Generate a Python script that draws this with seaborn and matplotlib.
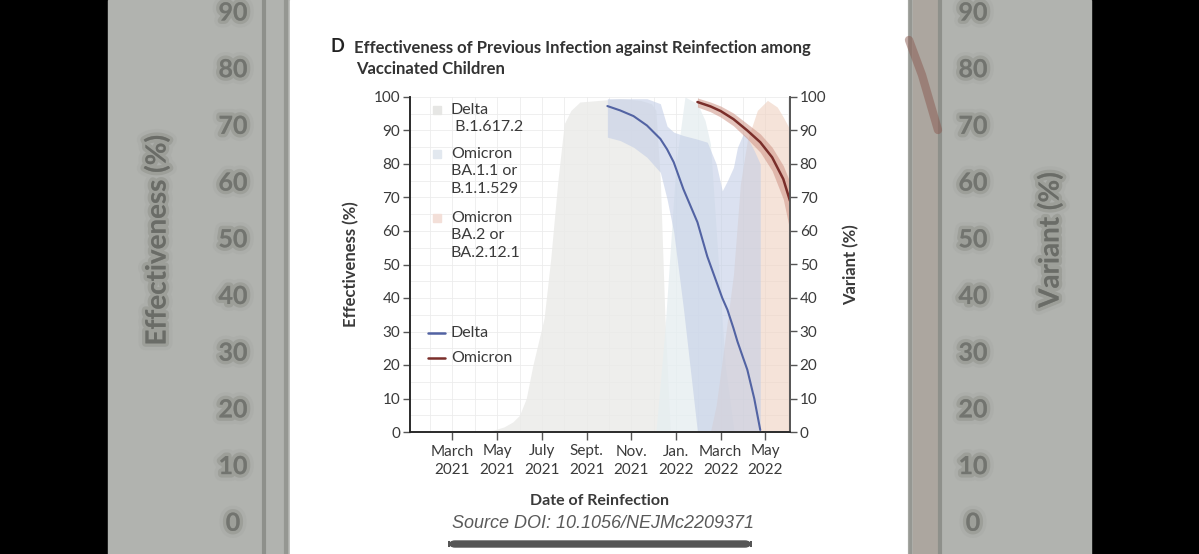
import numpy as np
import seaborn as sns
import matplotlib.pyplot as plt
import matplotlib.patheffects as pe
from matplotlib.patches import Rectangle, FancyBboxPatch
from matplotlib.lines import Line2D

# x values are months counted from 1 Jan 2021
tick_months = [2, 4, 6, 8, 10, 12, 14, 16]
tick_labels = ["March\n2021", "May\n2021", "July\n2021", "Sept.\n2021",
               "Nov.\n2021", "Jan.\n2022", "March\n2022", "May\n2022"]

# variant share (%)
delta_var_month = [0.1, 3.0, 3.8, 4.3, 4.7, 5.0, 5.3, 5.6, 6.1, 6.4, 6.7, 7.0,
                   7.3, 7.7, 8.6, 9.5, 10.4, 10.9, 11.1, 11.3, 11.5, 11.75]
delta_var_pct = [0, 0, 0.5, 1.5, 3, 5, 10, 20, 34, 52, 74, 92,
                 96, 98.5, 99, 99.5, 99, 98, 96, 75, 35, 0]

ba1_var_month = [11.1, 11.5, 12.0, 12.4, 12.96, 13.3, 13.54, 13.8, 14.2, 14.6]
ba1_var_pct = [0, 30, 80, 100, 98, 93, 86, 60, 20, 0]

ba2_var_month = [13.54, 13.8, 14.12, 14.57, 14.88, 15.19, 15.64, 16.09, 16.53, 16.8, 17.12]
ba2_var_pct = [0, 8, 24, 47, 74, 87, 96, 99, 97, 94, 90]

# effectiveness (%) with 95% CI
delta_eff_month = [8.93, 9.5, 10.1, 10.7, 11.3, 11.6, 11.9, 12.33, 12.96, 13.4,
                   13.8, 14.07, 14.3, 14.57, 14.75, 15.01, 15.19, 15.5, 15.77]
delta_eff = [97.3, 96, 94.3, 91.5, 87.5, 84.4, 80.5, 72.5, 62.6, 52.4,
             45, 40, 36.5, 31, 27, 22, 18.6, 10, 0.6]
delta_lo = [88, 87, 85, 82, 77.5, 69.5, 59.6, 37, 0, 0,
            0, 0, 0, 0, 0, 0, 0, 0, 0]
delta_hi = [99.5, 99.5, 99.5, 99.5, 98, 91.3, 89.5, 88.5, 87.4, 86.5,
            80, 72, 75, 79, 85, 89, 88, 84, 80]

omi_eff_month = [12.96, 13.54, 14.0, 14.57, 15.19, 15.77, 16.3, 16.8, 17.1]
omi_eff = [98.5, 97.2, 95.8, 93.4, 90, 86.5, 82, 75.5, 69]
omi_lo = [97, 95.6, 94, 91.4, 87.5, 83.5, 78, 69.5, 60]
omi_hi = [99.7, 98.5, 97.3, 95.2, 92, 89, 85, 79.5, 74.5]

area_labels = [["Delta", " B.1.617.2"], ["Omicron", "BA.1.1 or", "B.1.1.529"],
               ["Omicron", "BA.2 or", "BA.2.12.1"]]
line_labels = ["Delta", "Omicron"]
side_ticks = ["90", "80", "70", "60", "50", "40", "30", "20", "10", "0"]

sns.set_theme(style="white")
plt.rcParams["font.family"] = ["Lato", "DejaVu Sans"]
txt = "#3a3a3a"
blue, red = "#5263a3", "#7a2e2a"

fig = plt.figure(figsize=(11.99, 5.54), dpi=100, facecolor="black")
W, H = 1199, 554


def fx(px):
    return px / W


def fy(py):
    return 1 - py / H


# screenshot frame: blurred side panels and white card
for x0, w, c in [(108, 182, "#b1b3af"), (908, 183, "#b1b3af"), (913, 24, "#aca69f"),
                 (290, 618, "white")]:
    fig.patches.append(Rectangle((fx(x0), 0), fx(w), 1, transform=fig.transFigure,
                                 color=c, zorder=-10))
blur = [pe.withStroke(linewidth=10, foreground="#a8aaa6", alpha=0.5),
        pe.withStroke(linewidth=5, foreground="#93958f", alpha=0.6)]
for i, t in enumerate(side_ticks):
    yy = fy(13 + 56.7 * i)
    for xx in (233, 973):
        fig.text(fx(xx), yy, t, ha="center", va="center", fontsize=18,
                 color="#72746f", fontweight="bold", path_effects=blur, zorder=-5)
fig.text(fx(157), fy(240), "Effectiveness (%)", rotation=90, ha="center",
         va="center", fontsize=20, color="#6a6c67", fontweight="bold",
         path_effects=blur, zorder=-5)
fig.text(fx(1050), fy(240), "Variant (%)", rotation=90, ha="center",
         va="center", fontsize=20, color="#6a6c67", fontweight="bold",
         path_effects=blur, zorder=-5)
for xx, c in [(264, "#868882"), (286, "#8f918b"), (910, "#8f918b"), (940, "#868882")]:
    fig.lines.append(Line2D([fx(xx), fx(xx)], [0, 1], transform=fig.transFigure,
                            color=c, lw=3, alpha=0.8, zorder=-5))
fig.lines.append(Line2D([fx(909), fx(922), fx(938)], [fy(40), fy(75), fy(130)],
                        transform=fig.transFigure, color="#8a5a50", lw=6,
                        alpha=0.5, zorder=-5, solid_capstyle="round"))

# main chart
ax = fig.add_axes([fx(410), fy(432), fx(380), (432 - 97) / H])
ax.set_facecolor("none")

ax.fill_between(delta_var_month, 0, delta_var_pct, color="#ebebe9", alpha=0.85,
                lw=0, zorder=1)
ax.fill_between(ba1_var_month, 0, ba1_var_pct, color="#e6eef1", alpha=0.8,
                lw=0, zorder=1)
ax.fill_between(ba2_var_month, 0, ba2_var_pct, color="#efd2c3", alpha=0.62,
                lw=0, zorder=1)
ax.fill_between(delta_eff_month, delta_lo, delta_hi, color="#c3cee6", alpha=0.6,
                lw=0, zorder=2)
ax.fill_between(omi_eff_month, omi_lo, omi_hi, color="#cf9486", alpha=0.55,
                lw=0, zorder=2)
sns.lineplot(x=delta_eff_month, y=delta_eff, ax=ax, color=blue, lw=1.5, zorder=3)
sns.lineplot(x=omi_eff_month, y=omi_eff, ax=ax, color=red, lw=1.8, zorder=3)

ax.set_xlim(0.1, 17.1)
ax.set_ylim(0, 100)
ax.set_xticks(tick_months)
ax.set_xticklabels(tick_labels, fontsize=11, color=txt, linespacing=1.45)
ax.set_xticks(np.arange(1, 18), minor=True)
ax.set_yticks(np.arange(0, 101, 10))
ax.set_yticks(np.arange(0, 101, 5), minor=True)
ax.tick_params(axis="both", which="major", direction="out", length=5, width=1,
               color="#555555", labelcolor=txt, labelsize=11, pad=2)
ax.tick_params(axis="x", which="major", length=6, pad=3, bottom=True)
ax.tick_params(axis="y", which="major", left=True)
ax.tick_params(which="minor", length=0)
ax.grid(which="both", color="#ececec", lw=0.6, zorder=0)
ax.set_axisbelow(True)
ax.spines["top"].set_visible(False)
for s in ["left", "bottom", "right"]:
    ax.spines[s].set_color("#555555")
    ax.spines[s].set_linewidth(1.2)

ax2 = ax.twinx()
ax2.set_ylim(0, 100)
ax2.set_yticks(np.arange(0, 101, 10))
ax2.tick_params(axis="y", direction="out", length=5, width=1, color="#555555",
                labelcolor=txt, labelsize=11, pad=2, right=True)
ax2.spines["top"].set_visible(False)
ax2.spines["right"].set_color("#555555")
ax2.spines["right"].set_linewidth(1.2)
ax2.grid(False)

ax.set_ylabel("Effectiveness (%)", fontsize=12, fontweight="bold", color=txt, labelpad=10)
ax2.set_ylabel("Variant (%)", fontsize=12, fontweight="bold", color=txt, labelpad=12)
ax.set_xlabel("Date of Reinfection", fontsize=11.5, fontweight="bold", color=txt,
              labelpad=12)


def axx(px):
    return (px - 410) / 380


def axy(py):
    return (432 - py) / 335


# legend for the variant areas
sq_colors = ["#e6e6e4", "#e2e8ef", "#f3dfd8"]
first_rows = [110, 154, 218]
for lines, c, y0 in zip(area_labels, sq_colors, first_rows):
    ax.add_patch(Rectangle((axx(433), axy(y0 + 4)), 8 / 380, 8 / 335,
                           transform=ax.transAxes, color=c, zorder=4))
    for k, s in enumerate(lines):
        ax.text(axx(451), axy(y0 + 17.5 * k), s, transform=ax.transAxes,
                fontsize=11.5, color=txt, va="center", ha="left", zorder=4)

# legend for the effectiveness lines
for s, c, y0 in zip(line_labels, [blue, red], [333, 358]):
    ax.add_line(Line2D([axx(428), axx(445)], [axy(y0), axy(y0)],
                       transform=ax.transAxes, color=c, lw=1.8, zorder=4))
    ax.text(axx(451), axy(y0), s, transform=ax.transAxes, fontsize=11.5,
            color=txt, va="center", ha="left", zorder=4)

fig.text(fx(330), fy(47), "D", fontsize=13, fontweight="bold", color="#222222",
         va="center", ha="left")
fig.text(fx(354), fy(48), "Effectiveness of Previous Infection against Reinfection among",
         fontsize=12, fontweight="bold", color="#333333", va="center", ha="left")
fig.text(fx(356), fy(69), "Vaccinated Children", fontsize=12, fontweight="bold",
         color="#333333", va="center", ha="left")

fig.text(fx(603), fy(524), "Source DOI: 10.1056/NEJMc2209371", fontsize=13,
         style="italic", color="#5a5a5a", ha="center", va="center",
         family=["Liberation Sans", "DejaVu Sans"])
fig.patches.append(FancyBboxPatch((fx(449), fy(547)), fx(302), (6 / H),
                                  boxstyle="round,pad=0,rounding_size=0.005",
                                  transform=fig.transFigure, color="#555555",
                                  mutation_aspect=W / H))

fig.savefig("out.png", dpi=100, facecolor="black")
